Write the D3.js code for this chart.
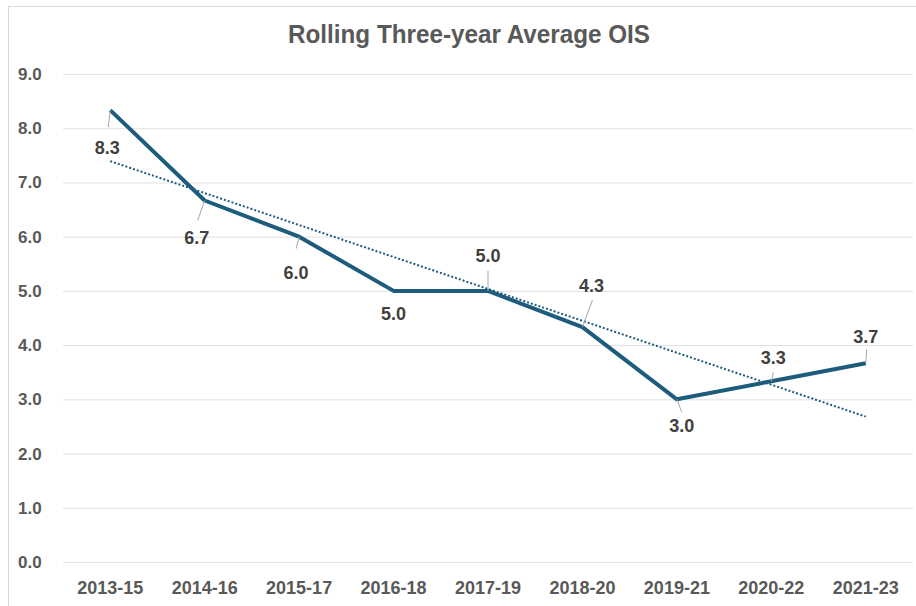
<!DOCTYPE html>
<html>
<head>
<meta charset="utf-8">
<script src="https://cdn.jsdelivr.net/npm/d3@7"></script>
<style>
  body { margin: 0; background: #fff; }
  svg text { font-family: "Liberation Sans", Arial, sans-serif; }
</style>
</head>
<body>
<div id="chart"></div>
<script>
// chart data
var periods = ["2013-15", "2014-16", "2015-17", "2016-18", "2017-19", "2018-20", "2019-21", "2020-22", "2021-23"];
var oisValues = [8.333, 6.667, 6.0, 5.0, 5.0, 4.333, 3.0, 3.333, 3.667];
var yTicks = [0, 1, 2, 3, 4, 5, 6, 7, 8, 9];

// label placement (dx, dy from the point, plus leader end)
var labelPlace = [
  { dx: -3, dy: 38, lx: -2, ly: 17 },
  { dx: -8, dy: 37, lx: -7, ly: 20 },
  { dx: -3, dy: 36, lx: -3, ly: 12 },
  { dx: 0, dy: 23, lx: 0, ly: 0 },
  { dx: 0, dy: -35, lx: 0, ly: -20 },
  { dx: 9, dy: -41, lx: 10, ly: -27 },
  { dx: 5, dy: 26, lx: 5, ly: 13 },
  { dx: 2, dy: -24, lx: 2, ly: -9 },
  { dx: 0, dy: -26, lx: 1, ly: -14 }
];

var svgWidth = 916, svgHeight = 606;
var margin = { top: 74, right: 3, bottom: 44, left: 63 };
var width = svgWidth - margin.left - margin.right;
var height = svgHeight - margin.top - margin.bottom;
var lineColor = "#1d5c7c";

var svg = d3.select("#chart").append("svg")
  .attr("width", svgWidth)
  .attr("height", svgHeight);

svg.append("rect")
  .attr("x", 8.5).attr("y", 6.5)
  .attr("width", 920).attr("height", 620)
  .attr("fill", "#fff")
  .attr("stroke", "#d9d9d9");

svg.append("text")
  .attr("x", 288).attr("y", 43)
  .attr("textLength", 362)
  .attr("lengthAdjust", "spacingAndGlyphs")
  .attr("font-size", "25px")
  .attr("font-weight", "bold")
  .attr("fill", "#595959")
  .text("Rolling Three-year Average OIS");

var g = svg.append("g")
  .attr("transform", `translate(${margin.left}, ${margin.top})`);

var x = d3.scaleBand().domain(periods).range([0, width]);
var y = d3.scaleLinear().domain([0, 9]).range([height, 0]);

// gridlines
g.append("g").selectAll("line")
  .data(yTicks)
  .enter()
  .append("line")
  .attr("x1", 0).attr("x2", width)
  .attr("y1", d => y(d) + 0.5).attr("y2", d => y(d) + 0.5)
  .attr("stroke", "#e0e0e0")
  .attr("stroke-width", 1);

// y axis labels
g.append("g").selectAll("text")
  .data(yTicks)
  .enter()
  .append("text")
  .attr("x", -45)
  .attr("y", d => y(d))
  .attr("dy", "0.35em")
  .attr("font-size", "17px")
  .attr("font-weight", "bold")
  .attr("fill", "#595959")
  .text(d => d3.format(".1f")(d));

// x axis labels
var xAxis = d3.axisBottom(x).tickSize(0).tickPadding(19);
var xg = g.append("g")
  .attr("transform", `translate(0, ${height})`)
  .call(xAxis);
xg.select(".domain").remove();
xg.selectAll("text")
  .attr("font-size", "18px")
  .attr("font-weight", "bold")
  .attr("fill", "#595959");

var cx = (d, i) => x(periods[i]) + x.bandwidth() / 2;

// trendline (linear least squares)
var n = oisValues.length;
var mx = d3.mean(oisValues, (d, i) => i);
var my = d3.mean(oisValues);
var sxy = d3.sum(oisValues, (d, i) => (i - mx) * (d - my));
var sxx = d3.sum(oisValues, (d, i) => (i - mx) * (i - mx));
var slope = sxy / sxx;
var icpt = my - slope * mx;

g.append("line")
  .attr("x1", cx(null, 0)).attr("y1", y(icpt))
  .attr("x2", cx(null, n - 1)).attr("y2", y(icpt + slope * (n - 1)))
  .attr("stroke", lineColor)
  .attr("stroke-width", 2)
  .attr("stroke-dasharray", "2,2");

// main line
var line = d3.line()
  .x((d, i) => cx(d, i))
  .y(d => y(d));

g.append("path")
  .datum(oisValues)
  .attr("d", line)
  .attr("fill", "none")
  .attr("stroke", lineColor)
  .attr("stroke-width", 4)
  .attr("stroke-linejoin", "round");

// leader lines
g.append("g").selectAll("line")
  .data(oisValues)
  .enter()
  .append("line")
  .attr("x1", (d, i) => cx(d, i))
  .attr("y1", d => y(d))
  .attr("x2", (d, i) => cx(d, i) + labelPlace[i].lx)
  .attr("y2", (d, i) => y(d) + labelPlace[i].ly)
  .attr("stroke", "#a6a6a6")
  .attr("stroke-width", 1);

// data labels
g.append("g").selectAll("text")
  .data(oisValues)
  .enter()
  .append("text")
  .attr("x", (d, i) => cx(d, i) + labelPlace[i].dx)
  .attr("y", (d, i) => y(d) + labelPlace[i].dy)
  .attr("dy", "0.35em")
  .attr("text-anchor", "middle")
  .attr("font-size", "18px")
  .attr("font-weight", "bold")
  .attr("fill", "#404040")
  .text(d => d3.format(".1f")(d));
</script>
</body>
</html>
